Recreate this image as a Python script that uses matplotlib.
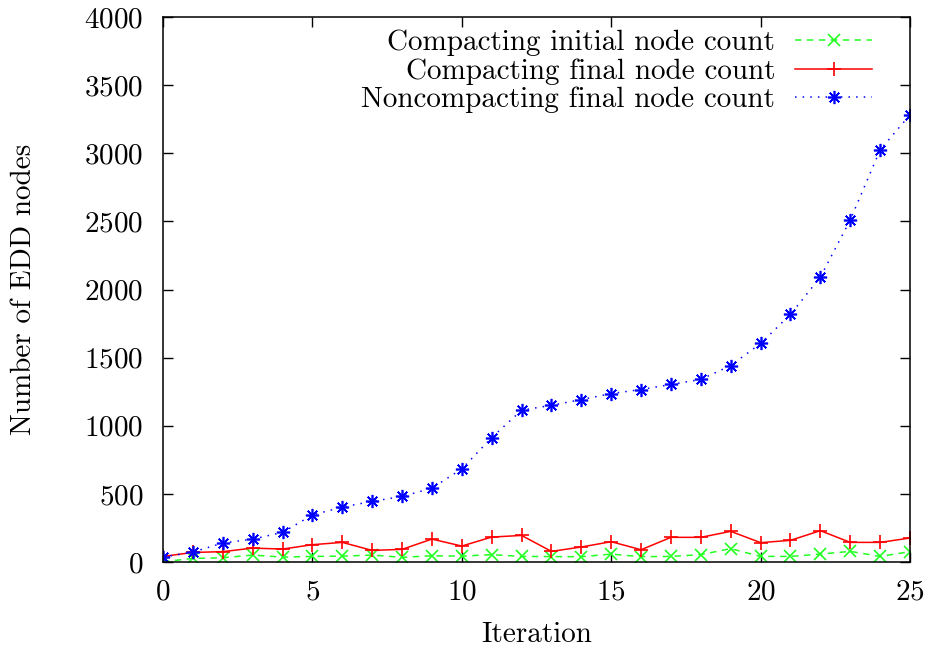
import matplotlib
matplotlib.use("Agg")
import matplotlib.pyplot as plt

plt.rcParams["font.family"] = ["cmr10", "DejaVu Serif"]
plt.rcParams["axes.formatter.use_mathtext"] = True
plt.rcParams["mathtext.fontset"] = "cm"

FS = 21

iterations = list(range(26))

compacting_initial = [2, 26, 31, 51, 36, 41, 43, 51, 34, 46, 43, 54, 41,
                      40, 39, 58, 39, 41, 54, 98, 41, 41, 58, 78, 41, 76]
compacting_final = [41, 70, 76, 102, 95, 127, 144, 85, 93, 168, 117, 183, 195,
                    78, 110, 149, 90, 181, 181, 225, 142, 159, 230, 144, 144, 176]
noncompacting_final = [36, 73, 139, 168, 217, 345, 403, 445, 481, 542, 683, 913, 1114,
                       1150, 1192, 1236, 1266, 1303, 1340, 1442, 1604, 1817, 2091, 2510, 3025, 3282]

labels = ["Compacting initial node count",
          "Compacting final node count",
          "Noncompacting final node count"]

fig = plt.figure(figsize=(9.33, 6.5), dpi=100)
ax = fig.add_axes([163 / 933, 88 / 650, 747 / 933, 545 / 650])

ax.plot(iterations, compacting_initial, color="#22ff22", lw=1.1,
        linestyle=(0, (4.2, 3.6)), marker="x", ms=8.5, mew=1.2, label=labels[0])
ax.plot(iterations, compacting_final, color="#ff0000", lw=1.1,
        linestyle="-", marker="+", ms=10, mew=1.2, label=labels[1])
ax.plot(iterations, noncompacting_final, color="#0000ff", lw=1.1,
        linestyle=(0, (1.0, 4.0)), marker=(8, 2, 0), ms=9.5, mew=1.2, label=labels[2])

ax.set_xlim(0, 25)
ax.set_ylim(0, 4000)
ax.set_xticks(range(0, 26, 5))
ax.set_yticks(range(0, 4001, 500))

for s in ax.spines.values():
    s.set_linewidth(1.1)
    s.set_color("black")

ax.tick_params(axis="both", which="major", direction="in", length=7, width=1.0,
               top=True, right=True, labelsize=FS)
ax.tick_params(axis="x", pad=12)
ax.tick_params(axis="y", pad=14)

ax.set_xlabel("Iteration", fontsize=FS, labelpad=12)
ax.set_ylabel("Number of EDD nodes", fontsize=FS, labelpad=34)

leg = ax.legend(loc="upper right", bbox_to_anchor=(872 / 933, 1 - 30 / 650),
                bbox_transform=fig.transFigure, frameon=False, markerfirst=False,
                fontsize=FS, handlelength=2.64, handletextpad=0.68,
                labelspacing=0.06, numpoints=1, borderaxespad=0, borderpad=0)

fig.savefig("out.png", dpi=100)
